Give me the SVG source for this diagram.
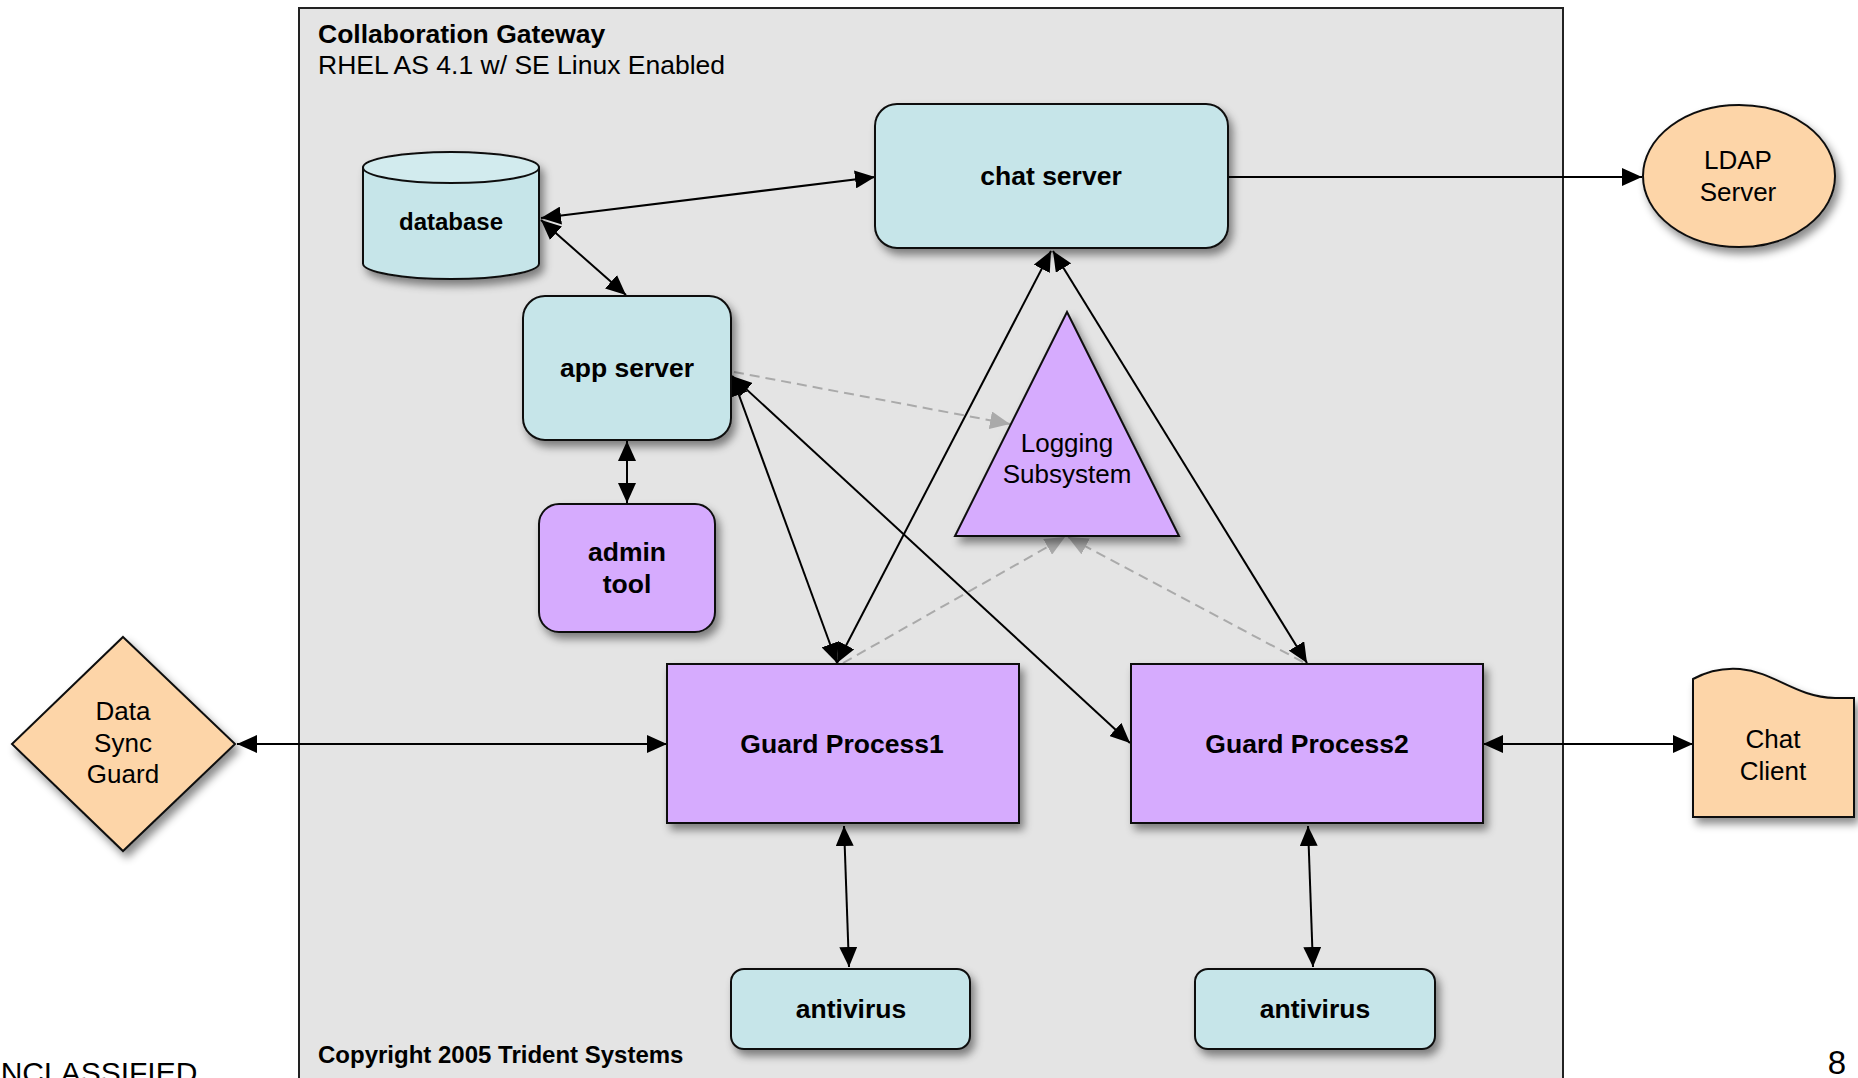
<svg xmlns="http://www.w3.org/2000/svg" width="1858" height="1078" viewBox="0 0 1858 1078">
<defs>
<filter id="sh" x="-20%" y="-20%" width="150%" height="150%">
<feDropShadow dx="4" dy="6" stdDeviation="4" flood-color="#000" flood-opacity="0.45"/>
</filter>
<marker id="ah" markerUnits="userSpaceOnUse" markerWidth="20" markerHeight="18" refX="20" refY="9" orient="auto-start-reverse" viewBox="0 0 20 18">
<path d="M0,0 L20,9 L0,18 Z" fill="#000"/>
</marker>
<marker id="ag" markerUnits="userSpaceOnUse" markerWidth="20" markerHeight="18" refX="20" refY="9" orient="auto-start-reverse" viewBox="0 0 20 18">
<path d="M0,0 L20,9 L0,18 Z" fill="#aaa"/>
</marker>
</defs>
<style>
.blue{fill:#C6E5E9;stroke:#111;stroke-width:2}
.purple{fill:#D6ABFE;stroke:#111;stroke-width:2}
.orange{fill:#FDD5A8;stroke:#111;stroke-width:2}
.b{font-family:"Liberation Sans",Arial,sans-serif;font-weight:bold;font-size:26.5px;fill:#000;text-anchor:middle}
.r{font-family:"Liberation Sans",Arial,sans-serif;font-size:26px;fill:#000;text-anchor:middle}
.c{fill:none;stroke:#000;stroke-width:2;marker-start:url(#ah);marker-end:url(#ah)}
.c1{fill:none;stroke:#000;stroke-width:2;marker-end:url(#ah)}
.d{fill:none;stroke:#aaa;stroke-width:2;stroke-dasharray:10,6;marker-end:url(#ag)}
</style>
<rect width="1858" height="1078" fill="#fff"/>
<g id="gateway">
<rect x="299" y="8" width="1264" height="1090" fill="#E4E4E4" stroke="#222" stroke-width="2"/>
<text x="318" y="43" style="font-family:'Liberation Sans',Arial,sans-serif;font-weight:bold;font-size:26.5px">Collaboration Gateway</text>
<text x="318" y="74" style="font-family:'Liberation Sans',Arial,sans-serif;font-size:26.5px">RHEL AS 4.1 w/ SE Linux Enabled</text>
<text x="318" y="1063" style="font-family:'Liberation Sans',Arial,sans-serif;font-weight:bold;font-size:24px">Copyright 2005 Trident Systems</text>
</g>
<g id="connectors">
<line class="c" x1="541" y1="218" x2="875" y2="177"/>
<line class="c" x1="541" y1="220" x2="626" y2="295"/>
<line class="c" x1="627" y1="441" x2="627" y2="503"/>
<line class="c" x1="732" y1="376" x2="837" y2="663"/>
<line class="c" x1="732" y1="376" x2="1130" y2="743"/>
<line class="c" x1="1051" y1="251" x2="837" y2="663"/>
<line class="c" x1="1053" y1="251" x2="1307" y2="663"/>
<line class="c1" x1="1228" y1="177" x2="1642" y2="177"/>
<line class="c" x1="237" y1="744" x2="667" y2="744"/>
<line class="c" x1="1483" y1="744" x2="1693" y2="744"/>
<line class="c" x1="844" y1="826" x2="849" y2="967"/>
<line class="c" x1="1308" y1="826" x2="1313" y2="967"/>
<line class="d" x1="734" y1="372" x2="1010" y2="424"/>
<line class="d" x1="843" y1="663" x2="1065" y2="537"/>
<line class="d" x1="1303" y1="662" x2="1068" y2="537"/>
</g>
<g id="database" filter="url(#sh)">
<path class="blue" d="M363,167.5 L363,263.5 A88,15.5 0 0 0 539,263.5 L539,167.5 Z"/>
<ellipse cx="451" cy="167.5" rx="88" ry="15.5" fill="#D2EBEE" stroke="#111" stroke-width="2"/>
</g>
<text class="b" x="451" y="230" style="font-size:24px">database</text>
<g id="chat-server">
<rect class="blue" x="875" y="104" width="353" height="144" rx="22" filter="url(#sh)"/>
<text class="b" x="1051" y="185">chat server</text>
</g>
<g id="app-server">
<rect class="blue" x="523" y="296" width="208" height="144" rx="22" filter="url(#sh)"/>
<text class="b" x="627" y="377">app server</text>
</g>
<g id="admin-tool">
<rect class="purple" x="539" y="504" width="176" height="128" rx="20" filter="url(#sh)"/>
<text class="b" x="627" y="561">admin</text>
<text class="b" x="627" y="593">tool</text>
</g>
<g id="logging">
<polygon class="purple" points="1067,312 1179,536 955,536" filter="url(#sh)"/>
<text class="r" x="1067" y="452">Logging</text>
<text class="r" x="1067" y="483">Subsystem</text>
</g>
<g id="guard1">
<rect class="purple" x="667" y="664" width="352" height="159" filter="url(#sh)"/>
<text class="b" x="842" y="753">Guard Process1</text>
</g>
<g id="guard2">
<rect class="purple" x="1131" y="664" width="352" height="159" filter="url(#sh)"/>
<text class="b" x="1307" y="753">Guard Process2</text>
</g>
<g id="antivirus1">
<rect class="blue" x="731" y="969" width="239" height="80" rx="13" filter="url(#sh)"/>
<text class="b" x="851" y="1018">antivirus</text>
</g>
<g id="antivirus2">
<rect class="blue" x="1195" y="969" width="240" height="80" rx="13" filter="url(#sh)"/>
<text class="b" x="1315" y="1018">antivirus</text>
</g>
<g id="ldap">
<ellipse class="orange" cx="1739" cy="176" rx="96" ry="71" filter="url(#sh)"/>
<text class="r" x="1738" y="169">LDAP</text>
<text class="r" x="1738" y="201">Server</text>
</g>
<g id="data-sync-guard">
<polygon class="orange" points="123,637 235,744 123,851 12,744" filter="url(#sh)"/>
<text class="r" x="123" y="720">Data</text>
<text class="r" x="123" y="752">Sync</text>
<text class="r" x="123" y="783">Guard</text>
</g>
<g id="chat-client">
<path class="orange" d="M1693,679 Q1715,667 1740,669 C1775,672 1795,697 1835,698 L1854,698 L1854,817 L1693,817 Z" filter="url(#sh)"/>
<text class="r" x="1773" y="748">Chat</text>
<text class="r" x="1773" y="780">Client</text>
</g>
<text x="-21" y="1083" style="font-family:'Liberation Sans',Arial,sans-serif;font-size:30px">UNCLASSIFIED</text>
<text x="1837" y="1074" style="font-family:'Liberation Sans',Arial,sans-serif;font-size:33px;text-anchor:middle">8</text>
</svg>
